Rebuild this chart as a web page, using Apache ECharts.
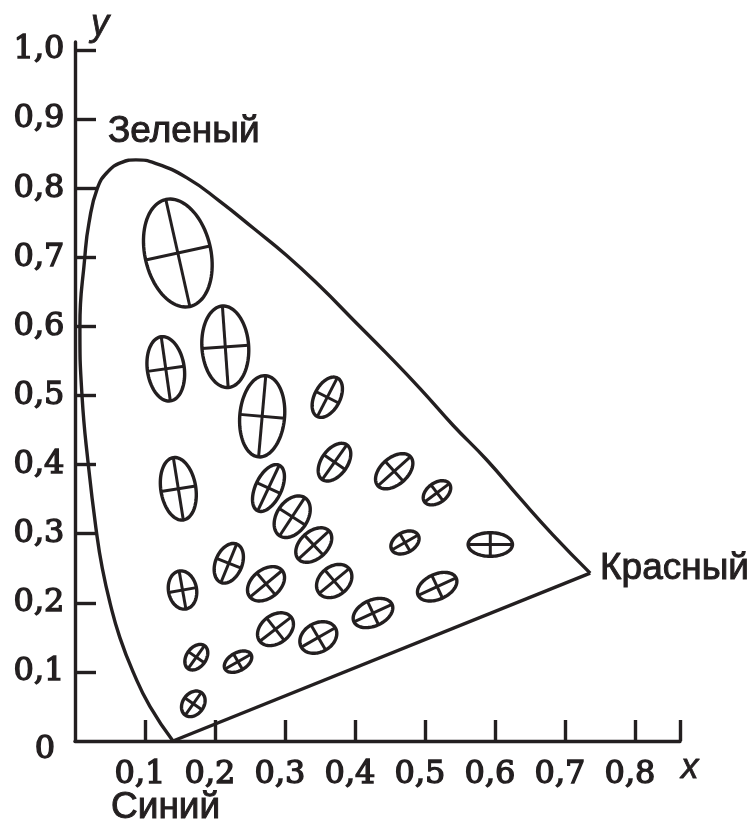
<!DOCTYPE html>
<html><head><meta charset="utf-8">
<script src="https://cdn.jsdelivr.net/npm/echarts@6/dist/echarts.min.js"></script>
<style>html,body{margin:0;padding:0;background:#fff}#c{width:753px;height:819px}</style>
</head><body><div id="c"></div>
<script>
const INK = '#231f20';

// spectral locus, from the blue end round to the red end
const locusX = [0.140, 0.107, 0.083, 0.064, 0.050, 0.039, 0.031, 0.019, 0.010, 0.007, 0.014, 0.020, 0.032, 0.047, 0.066, 0.087, 0.115, 0.160, 0.207, 0.255, 0.302, 0.350, 0.398, 0.445, 0.493, 0.540, 0.588, 0.636, 0.683, 0.736];
const locusY = [0.000, 0.050, 0.100, 0.150, 0.200, 0.250, 0.300, 0.400, 0.500, 0.600, 0.700, 0.750, 0.800, 0.824, 0.837, 0.841, 0.836, 0.815, 0.781, 0.742, 0.703, 0.658, 0.609, 0.561, 0.510, 0.457, 0.407, 0.351, 0.298, 0.243];
// straight closing line red -> blue
const purpleX = [0.736, 0.140];
const purpleY = [0.243, 0.000];

// MacAdam ellipses: centre, semi-axes (data units), angle of major axis (deg)
const ellX = [0.1469,0.1297,0.2147,0.2674,0.3604,0.1476,0.2764,0.3707,0.4560,0.5171,0.3103,0.3411,0.4714,0.5933,0.1536,0.2197,0.2729,0.3703,0.5174,0.1733,0.2329,0.2864,0.3476,0.4257,0.1690];
const ellY = [0.7062,0.5386,0.5705,0.4699,0.4975,0.3650,0.3661,0.4035,0.3904,0.3592,0.3246,0.2836,0.2873,0.2844,0.2185,0.2572,0.2275,0.2315,0.2233,0.1213,0.1148,0.1618,0.1498,0.1852,0.0538];
const ellA = [0.0793,0.0469,0.0591,0.0590,0.0314,0.0457,0.0364,0.0307,0.0314,0.0221,0.0329,0.0300,0.0217,0.0317,0.0279,0.0300,0.0300,0.0279,0.0299,0.0204,0.0214,0.0284,0.0280,0.0300,0.0200];
const ellB = [0.0471,0.0264,0.0334,0.0320,0.0183,0.0250,0.0186,0.0186,0.0193,0.0143,0.0221,0.0196,0.0146,0.0171,0.0201,0.0190,0.0204,0.0209,0.0181,0.0140,0.0129,0.0204,0.0209,0.0187,0.0151];
const ellAngle = [102.5,98,94,85,63,99,65,55,42,37,57,43,30,0,100,68,40,40,25,55,30,38,30,25,55];

const xTickValues = [0.1,0.2,0.3,0.4,0.5,0.6,0.7,0.8,0.8643];
const xLabelValues = [0.1,0.2,0.3,0.4,0.5,0.6,0.7,0.8];
const yTickValues = [0.1,0.2,0.3,0.4,0.5,0.6,0.7,0.8,0.9,1.0];
const yLabelValues = [0,0.1,0.2,0.3,0.4,0.5,0.6,0.7,0.8,0.9,1.0];

const fmt = v => v.toFixed(1).replace('.', ',');
const numFont = {fontFamily:'DejaVu Serif', fontSize:32, color:INK, textBorderColor:INK, textBorderWidth:1.4};
const LW = 3.4;

function renderEllipse(params, api) {
  const cx = api.value(0), cy = api.value(1), a = api.value(2), b = api.value(3);
  const ang = api.value(4) * Math.PI / 180;
  const ca = Math.cos(ang), sa = Math.sin(ang);
  const pts = [];
  const N = 90;
  for (let i = 0; i < N; i++) {
    const t = i / N * 2 * Math.PI;
    const u = a * Math.cos(t), v = b * Math.sin(t);
    pts.push(api.coord([cx + u * ca - v * sa, cy + u * sa + v * ca]));
  }
  const p1 = api.coord([cx + a * ca, cy + a * sa]), p2 = api.coord([cx - a * ca, cy - a * sa]);
  const q1 = api.coord([cx - b * sa, cy + b * ca]), q2 = api.coord([cx + b * sa, cy - b * ca]);
  return {type:'group', children:[
    {type:'polygon', shape:{points:pts}, style:{fill:'none', stroke:INK, lineWidth:LW}},
    {type:'line', shape:{x1:p1[0], y1:p1[1], x2:p2[0], y2:p2[1]}, style:{stroke:INK, lineWidth:3}},
    {type:'line', shape:{x1:q1[0], y1:q1[1], x2:q2[0], y2:q2[1]}, style:{stroke:INK, lineWidth:3}}
  ]};
}

const nameStyle = (text, x, y) => ({type:'text', x:x, y:y, style:{text:text, font:'37px "Liberation Sans"', fill:INK, stroke:INK, lineWidth:1, textAlign:'left', textVerticalAlign:'middle'}});

const chart = echarts.init(document.getElementById('c'));
chart.setOption({
  animation: false,
  backgroundColor: '#fff',
  grid: {left:75, right:73, top:42, bottom:78},
  xAxis: {
    type:'value', min:0, max:0.8643,
    axisLine:{show:true, onZero:false, lineStyle:{color:INK, width:LW}},
    axisTick:{show:true, inside:true, length:21, customValues:xTickValues, lineStyle:{color:INK, width:LW}},
    axisLabel:Object.assign({customValues:xLabelValues, formatter:fmt, margin:18, padding:[0,10,0,0]}, numFont),
    splitLine:{show:false}
  },
  yAxis: {
    type:'value', min:0, max:1.0116,
    axisLine:{show:true, onZero:false, lineStyle:{color:INK, width:LW}},
    axisTick:{show:true, inside:true, length:21, customValues:yTickValues, lineStyle:{color:INK, width:LW}},
    axisLabel:Object.assign({customValues:yLabelValues, align:'center', margin:36,
      formatter: v => v === 0 ? '{z|0}' : fmt(v),
      rich:{z:Object.assign({padding:[18,0,0,12]}, numFont)}}, numFont),
    splitLine:{show:false}
  },
  series: [
    {type:'line', data: locusX.map((x,i)=>[x, locusY[i]]), smooth:0.5, symbol:'none',
     lineStyle:{color:INK, width:LW}, clip:false},
    {type:'line', data: purpleX.map((x,i)=>[x, purpleY[i]]), symbol:'none',
     lineStyle:{color:INK, width:LW}, clip:false},
    {type:'custom', renderItem: renderEllipse, encode:{x:0, y:1}, clip:false,
     data: ellX.map((x,i)=>[x, ellY[i], ellA[i], ellB[i], ellAngle[i]])}
  ],
  graphic: [
    nameStyle('Зеленый', 108, 132),
    nameStyle('Красный', 600, 569),
    nameStyle('Синий', 111, 808),
    {type:'text', x:681, y:768, style:{text:'x', font:'italic 35px "Liberation Sans"', fill:INK, stroke:INK, lineWidth:0.8, textAlign:'left', textVerticalAlign:'middle'}},
    {type:'text', x:91, y:25, style:{text:'y', font:'italic 36px "Liberation Sans"', fill:INK, stroke:INK, lineWidth:0.8, textAlign:'left', textVerticalAlign:'middle'}}
  ]
});
</script></body></html>
